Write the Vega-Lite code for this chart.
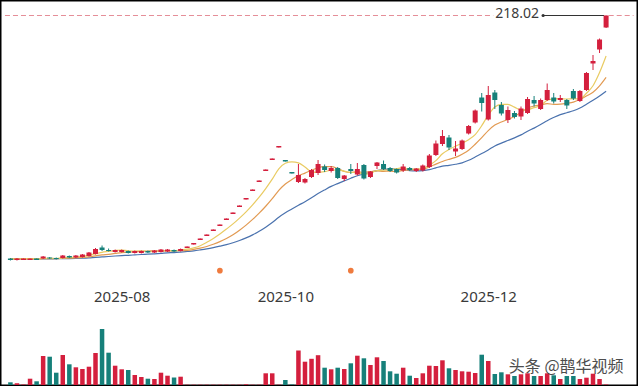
{
  "$schema": "https://vega.github.io/schema/vega-lite/v6.json",
  "width": 638,
  "height": 386,
  "padding": 0,
  "autosize": {"type": "none"},
  "background": "white",
  "config": {
    "view": {"stroke": "#000000", "strokeWidth": 3},
    "axisX": {"domain": false, "ticks": false, "grid": false, "labelFontSize": 15, "labelColor": "#3a3a3a", "labelFont": "Noto Sans"}
  },
  "datasets": {
    "k": [
      {"i":0,"d":"down","o":13.90,"c":12.64,"h":14.32,"l":12.22,"v":8.1,"m5":13.56,"m10":13.52,"m20":13.50},
      {"i":1,"d":"up","o":12.64,"c":13.90,"h":14.32,"l":12.22,"v":5.1,"m5":13.65,"m10":13.56,"m20":13.52},
      {"i":2,"d":"up","o":12.64,"c":13.90,"h":13.90,"l":12.64,"v":1.5,"m5":13.73,"m10":13.61,"m20":13.54},
      {"i":3,"d":"up","o":12.64,"c":13.90,"h":13.90,"l":12.64,"v":18.9,"m5":13.82,"m10":13.65,"m20":13.56},
      {"i":4,"d":"down","o":13.90,"c":12.64,"h":13.90,"l":12.64,"v":11.1,"m5":13.65,"m10":13.56,"m20":13.52},
      {"i":5,"d":"up","o":13.90,"c":15.58,"h":16.00,"l":13.48,"v":87,"m5":13.98,"m10":13.77,"m20":13.63},
      {"i":6,"d":"down","o":14.74,"c":13.90,"h":15.16,"l":13.48,"v":84.9,"m5":13.98,"m10":13.82,"m20":13.65},
      {"i":7,"d":"down","o":14.32,"c":13.48,"h":14.74,"l":13.06,"v":36.9,"m5":13.90,"m10":13.82,"m20":13.65},
      {"i":8,"d":"up","o":14.32,"c":16.42,"h":16.84,"l":13.90,"v":90,"m5":14.40,"m10":14.11,"m20":13.82},
      {"i":9,"d":"down","o":16.00,"c":14.74,"h":16.42,"l":14.32,"v":62.1,"m5":14.82,"m10":14.24,"m20":13.86},
      {"i":10,"d":"up","o":14.74,"c":16.42,"h":16.84,"l":14.32,"v":53.1,"m5":14.99,"m10":14.49,"m20":13.98},
      {"i":11,"d":"up","o":15.16,"c":17.26,"h":17.68,"l":14.74,"v":48,"m5":15.66,"m10":14.82,"m20":14.19},
      {"i":12,"d":"up","o":16.00,"c":18.94,"h":19.36,"l":15.58,"v":54.9,"m5":16.76,"m10":15.33,"m20":14.49},
      {"i":13,"d":"up","o":17.68,"c":21.88,"h":22.72,"l":17.26,"v":96,"m5":17.85,"m10":16.13,"m20":14.91},
      {"i":14,"d":"down","o":23.14,"c":21.04,"h":24.82,"l":20.20,"v":168,"m5":19.11,"m10":16.97,"m20":15.24},
      {"i":15,"d":"down","o":21.04,"c":20.20,"h":22.30,"l":19.78,"v":96.9,"m5":19.86,"m10":17.43,"m20":15.58},
      {"i":16,"d":"up","o":19.36,"c":21.04,"h":21.46,"l":18.94,"v":57.9,"m5":20.62,"m10":18.14,"m20":16.00},
      {"i":17,"d":"up","o":19.36,"c":21.04,"h":21.46,"l":18.94,"v":47.1,"m5":21.04,"m10":18.90,"m20":16.34},
      {"i":18,"d":"down","o":20.20,"c":18.52,"h":20.62,"l":18.10,"v":45,"m5":20.37,"m10":19.11,"m20":16.59},
      {"i":19,"d":"up","o":18.52,"c":20.20,"h":20.62,"l":18.10,"v":30,"m5":20.20,"m10":19.65,"m20":16.92},
      {"i":20,"d":"up","o":18.52,"c":20.20,"h":20.62,"l":18.10,"v":24,"m5":20.20,"m10":20.03,"m20":17.26},
      {"i":21,"d":"down","o":20.20,"c":18.94,"h":20.62,"l":18.52,"v":18.9,"m5":19.78,"m10":20.20,"m20":17.51},
      {"i":22,"d":"up","o":18.94,"c":20.62,"h":21.04,"l":18.52,"v":18,"m5":19.70,"m10":20.37,"m20":17.85},
      {"i":23,"d":"up","o":19.36,"c":21.46,"h":21.88,"l":18.94,"v":36.9,"m5":20.28,"m10":20.33,"m20":18.23},
      {"i":24,"d":"up","o":19.78,"c":21.46,"h":21.88,"l":19.36,"v":27.9,"m5":20.54,"m10":20.37,"m20":18.69},
      {"i":25,"d":"down","o":21.04,"c":19.78,"h":21.46,"l":19.36,"v":22.5,"m5":20.45,"m10":20.33,"m20":18.86},
      {"i":26,"d":"up","o":20.20,"c":21.88,"h":22.30,"l":19.78,"v":24.9,"m5":21.04,"m10":20.41,"m20":19.28},
      {"i":27,"d":"up","o":22.72,"c":23.98,"h":23.98,"l":22.72,"v":0.9,"m5":21.71,"m10":20.70,"m20":19.78},
      {"i":28,"d":"up","o":25.66,"c":26.92,"h":26.92,"l":25.66,"v":0.9,"m5":22.80,"m10":21.54,"m20":20.33},
      {"i":29,"d":"up","o":29.44,"c":30.70,"h":30.70,"l":29.44,"v":0.9,"m5":24.65,"m10":22.59,"m20":21.12},
      {"i":30,"d":"up","o":32.80,"c":34.06,"h":34.06,"l":32.80,"v":0.9,"m5":27.51,"m10":23.98,"m20":22.01},
      {"i":31,"d":"up","o":37.00,"c":38.26,"h":38.26,"l":37.00,"v":0.9,"m5":30.78,"m10":25.91,"m20":23.06},
      {"i":32,"d":"up","o":41.20,"c":42.46,"h":42.46,"l":41.20,"v":0.9,"m5":34.48,"m10":28.10,"m20":24.23},
      {"i":33,"d":"up","o":46.24,"c":47.50,"h":47.50,"l":46.24,"v":0.9,"m5":38.60,"m10":30.70,"m20":25.49},
      {"i":34,"d":"up","o":51.28,"c":52.54,"h":52.54,"l":51.28,"v":0.9,"m5":42.96,"m10":33.81,"m20":27.09},
      {"i":35,"d":"up","o":57.16,"c":58.42,"h":58.42,"l":57.16,"v":0.9,"m5":47.84,"m10":37.67,"m20":29.02},
      {"i":36,"d":"up","o":63.46,"c":64.72,"h":64.72,"l":63.46,"v":2.1,"m5":53.13,"m10":41.96,"m20":31.20},
      {"i":37,"d":"up","o":70.60,"c":71.86,"h":71.86,"l":70.60,"v":0.9,"m5":59.01,"m10":46.74,"m20":33.72},
      {"i":38,"d":"up","o":78.16,"c":79.42,"h":79.42,"l":78.16,"v":0.9,"m5":65.39,"m10":51.99,"m20":36.75},
      {"i":39,"d":"up","o":87.40,"c":88.66,"h":88.66,"l":87.40,"v":35.1,"m5":72.62,"m10":57.79,"m20":40.19},
      {"i":40,"d":"up","o":96.64,"c":97.90,"h":97.90,"l":96.64,"v":35.1,"m5":80.51,"m10":64.17,"m20":44.06},
      {"i":41,"d":"up","o":107.14,"c":108.40,"h":108.40,"l":107.14,"v":0.9,"m5":89.25,"m10":71.19,"m20":48.55},
      {"i":42,"d":"down","o":96.64,"c":95.38,"h":96.64,"l":95.38,"v":15,"m5":93.95,"m10":76.48,"m20":52.29},
      {"i":43,"d":"down","o":86.56,"c":85.30,"h":86.56,"l":85.30,"v":1.5,"m5":95.13,"m10":80.26,"m20":55.48},
      {"i":44,"d":"up","o":78.16,"c":84.04,"h":93.28,"l":77.32,"v":103.5,"m5":94.20,"m10":83.41,"m20":58.59},
      {"i":45,"d":"up","o":77.74,"c":80.68,"h":81.52,"l":76.90,"v":69.9,"m5":90.76,"m10":85.64,"m20":61.65},
      {"i":46,"d":"up","o":82.36,"c":88.24,"h":89.08,"l":81.52,"v":78.6,"m5":86.73,"m10":87.99,"m20":64.97},
      {"i":47,"d":"up","o":85.72,"c":93.28,"h":96.64,"l":84.04,"v":89.4,"m5":86.31,"m10":90.13,"m20":68.42},
      {"i":48,"d":"down","o":91.18,"c":88.24,"h":92.86,"l":86.56,"v":51.9,"m5":86.90,"m10":91.01,"m20":71.52},
      {"i":49,"d":"up","o":87.40,"c":89.92,"h":91.60,"l":86.14,"v":47.1,"m5":88.07,"m10":91.14,"m20":74.46},
      {"i":50,"d":"down","o":89.92,"c":81.52,"h":90.76,"l":80.68,"v":51.9,"m5":88.24,"m10":89.50,"m20":76.82},
      {"i":51,"d":"up","o":80.68,"c":83.62,"h":84.04,"l":79.00,"v":48,"m5":87.32,"m10":87.02,"m20":79.08},
      {"i":52,"d":"down","o":89.08,"c":87.40,"h":93.28,"l":84.88,"v":65.1,"m5":86.14,"m10":86.22,"m20":81.35},
      {"i":53,"d":"up","o":84.46,"c":89.08,"h":94.12,"l":83.62,"v":87.9,"m5":86.31,"m10":86.60,"m20":83.45},
      {"i":54,"d":"down","o":92.44,"c":81.10,"h":93.28,"l":80.26,"v":80.1,"m5":84.54,"m10":86.31,"m20":84.88},
      {"i":55,"d":"up","o":82.36,"c":86.98,"h":87.40,"l":81.52,"v":60,"m5":85.64,"m10":86.94,"m20":86.31},
      {"i":56,"d":"up","o":91.60,"c":94.54,"h":94.96,"l":89.08,"v":83.1,"m5":87.82,"m10":87.57,"m20":87.78},
      {"i":57,"d":"down","o":93.28,"c":89.08,"h":96.22,"l":88.24,"v":72,"m5":88.16,"m10":87.15,"m20":88.66},
      {"i":58,"d":"down","o":89.92,"c":87.40,"h":90.76,"l":86.56,"v":41.1,"m5":88.32,"m10":87.32,"m20":89.16},
      {"i":59,"d":"down","o":89.08,"c":86.14,"h":89.50,"l":85.30,"v":33.9,"m5":89.33,"m10":86.94,"m20":89.04},
      {"i":60,"d":"up","o":87.82,"c":91.18,"h":93.28,"l":86.56,"v":51.9,"m5":90.17,"m10":87.90,"m20":88.70},
      {"i":61,"d":"down","o":89.92,"c":88.24,"h":90.76,"l":87.40,"v":27.9,"m5":88.91,"m10":88.37,"m20":87.69},
      {"i":62,"d":"up","o":87.40,"c":89.50,"h":89.92,"l":86.56,"v":21,"m5":89.00,"m10":88.58,"m20":87.40},
      {"i":63,"d":"up","o":87.82,"c":92.02,"h":92.86,"l":86.98,"v":35.1,"m5":89.42,"m10":88.87,"m20":87.74},
      {"i":64,"d":"up","o":90.76,"c":100.42,"h":101.68,"l":89.92,"v":57.9,"m5":92.27,"m10":90.80,"m20":88.58},
      {"i":65,"d":"up","o":100.84,"c":110.50,"h":113.02,"l":100.00,"v":57,"m5":96.14,"m10":93.15,"m20":90.05},
      {"i":66,"d":"up","o":110.08,"c":116.80,"h":121.84,"l":108.40,"v":74.1,"m5":101.85,"m10":95.38,"m20":91.47},
      {"i":67,"d":"down","o":115.54,"c":107.14,"h":117.64,"l":105.04,"v":50.1,"m5":105.38,"m10":97.19,"m20":92.19},
      {"i":68,"d":"up","o":103.78,"c":106.30,"h":112.60,"l":100.00,"v":45,"m5":108.23,"m10":98.82,"m20":93.07},
      {"i":69,"d":"up","o":105.88,"c":113.02,"h":113.86,"l":105.04,"v":41.1,"m5":110.75,"m10":101.51,"m20":94.20},
      {"i":70,"d":"up","o":118.90,"c":125.20,"h":126.04,"l":118.06,"v":39.9,"m5":113.69,"m10":104.91,"m20":96.39},
      {"i":71,"d":"up","o":128.14,"c":138.22,"h":139.06,"l":127.30,"v":36,"m5":117.98,"m10":109.91,"m20":99.16},
      {"i":72,"d":"down","o":149.14,"c":144.52,"h":152.92,"l":137.38,"v":90.9,"m5":125.45,"m10":115.41,"m20":102.02},
      {"i":73,"d":"up","o":130.66,"c":151.24,"h":158.80,"l":129.82,"v":72,"m5":134.44,"m10":121.34,"m20":105.12},
      {"i":74,"d":"down","o":153.34,"c":147.04,"h":155.44,"l":139.48,"v":33,"m5":141.24,"m10":126.00,"m20":108.40},
      {"i":75,"d":"down","o":142.84,"c":135.70,"h":145.36,"l":134.02,"v":38.1,"m5":143.34,"m10":128.52,"m20":110.84},
      {"i":76,"d":"up","o":130.24,"c":138.64,"h":141.58,"l":127.72,"v":32.1,"m5":143.43,"m10":130.70,"m20":113.02},
      {"i":77,"d":"down","o":136.12,"c":132.76,"h":137.80,"l":131.50,"v":27,"m5":141.08,"m10":133.26,"m20":115.20},
      {"i":78,"d":"up","o":133.18,"c":139.90,"h":141.58,"l":130.24,"v":32.1,"m5":138.81,"m10":136.62,"m20":117.72},
      {"i":79,"d":"up","o":136.12,"c":147.88,"h":149.56,"l":135.28,"v":35.1,"m5":138.98,"m10":140.11,"m20":120.83},
      {"i":80,"d":"down","o":147.04,"c":144.10,"h":150.40,"l":141.58,"v":27,"m5":140.66,"m10":142.00,"m20":123.44},
      {"i":81,"d":"up","o":139.48,"c":147.04,"h":148.30,"l":138.64,"v":27,"m5":142.34,"m10":142.88,"m20":126.38},
      {"i":82,"d":"up","o":147.04,"c":155.44,"h":160.90,"l":146.20,"v":35.1,"m5":146.87,"m10":143.97,"m20":129.69},
      {"i":83,"d":"down","o":149.14,"c":145.78,"h":152.92,"l":144.10,"v":29.1,"m5":148.05,"m10":143.43,"m20":132.38},
      {"i":84,"d":"up","o":147.04,"c":148.72,"h":151.24,"l":145.36,"v":18,"m5":148.22,"m10":143.60,"m20":134.78},
      {"i":85,"d":"down","o":147.04,"c":142.42,"h":147.88,"l":139.48,"v":27,"m5":147.88,"m10":144.27,"m20":136.37},
      {"i":86,"d":"down","o":154.60,"c":148.30,"h":156.28,"l":147.04,"v":27,"m5":148.13,"m10":145.23,"m20":137.97},
      {"i":87,"d":"up","o":146.20,"c":154.60,"h":155.44,"l":145.36,"v":18,"m5":147.96,"m10":147.42,"m20":140.32},
      {"i":88,"d":"up","o":155.44,"c":169.72,"h":170.56,"l":154.60,"v":21.9,"m5":152.75,"m10":150.40,"m20":143.51},
      {"i":89,"d":"up","o":177.70,"c":179.80,"h":184.84,"l":172.24,"v":33.9,"m5":158.97,"m10":153.59,"m20":146.87},
      {"i":90,"d":"up","o":189.46,"c":197.86,"h":198.70,"l":186.52,"v":18,"m5":170.06,"m10":158.97,"m20":150.48},
      {"i":91,"d":"up","o":207.94,"c":218.02,"h":218.02,"l":207.52,"v":1.5,"m5":184.00,"m10":166.07,"m20":154.47}
    ],
    "ref": [{"label": "218.02", "p": 218.02}],
    "dots": [{"i": 32, "p": 3.65}, {"i": 52, "p": 3.65}],
    "wm": [{"label": "头条 @鹊华视频", "i": 84.9, "v": 54}]
  },
  "layer": [
    {
      "layer": [
        {
          "data": {"name": "ref"},
          "mark": {"type": "rule", "stroke": "#e58e98", "strokeWidth": 1, "strokeDash": [5, 3]},
          "encoding": {
            "x": {"datum": -0.83, "type": "quantitative", "title": null, "scale": {"domain": [-0.827, 95.11], "nice": false, "zero": false},
                  "axis": {"values": [17, 42, 73], "offset": -90, "labelPadding": 0, "labelBaseline": "middle", "title": null,
                           "labelExpr": "datum.value == 17 ? '2025-08' : datum.value == 42 ? '2025-10' : '2025-12'"}},
            "x2": {"datum": 73.76},
            "y": {"field": "p", "type": "quantitative", "scale": {"domain": [-93.2, 231.04], "nice": false, "zero": false}, "axis": null}
          }
        },
        {
          "data": {"name": "ref"},
          "mark": {"type": "rule", "stroke": "#e58e98", "strokeWidth": 1, "strokeDash": [5, 3]},
          "encoding": {
            "x": {"datum": 91.4, "type": "quantitative", "title": null},
            "x2": {"datum": 95.2},
            "y": {"field": "p", "type": "quantitative", "axis": null}
          }
        },
        {
          "data": {"name": "ref"},
          "mark": {"type": "rule", "stroke": "#333333", "strokeWidth": 1},
          "encoding": {
            "x": {"datum": 81.38, "type": "quantitative", "title": null},
            "x2": {"datum": 90.7},
            "y": {"field": "p", "type": "quantitative", "axis": null}
          }
        },
        {
          "data": {"name": "ref"},
          "mark": {"type": "point", "filled": true, "color": "#333333", "size": 10, "opacity": 1},
          "encoding": {
            "x": {"datum": 81.38, "type": "quantitative", "title": null},
            "y": {"field": "p", "type": "quantitative", "axis": null}
          }
        },
        {
          "data": {"name": "ref"},
          "mark": {"type": "text", "align": "left", "baseline": "middle", "dy": -2, "fontSize": 14, "font": "Noto Sans", "color": "#3a3a3a"},
          "encoding": {
            "x": {"datum": 74.06, "type": "quantitative", "title": null},
            "y": {"field": "p", "type": "quantitative", "axis": null},
            "text": {"field": "label"}
          }
        },
        {
          "data": {"name": "k"},
          "mark": {"type": "line", "interpolate": "monotone", "color": "#4a72ae", "strokeWidth": 1.2},
          "encoding": {
            "x": {"field": "i", "type": "quantitative", "title": null},
            "y": {"field": "m20", "type": "quantitative", "axis": null}
          }
        },
        {
          "data": {"name": "k"},
          "mark": {"type": "line", "interpolate": "monotone", "color": "#e29a52", "strokeWidth": 1.2},
          "encoding": {
            "x": {"field": "i", "type": "quantitative", "title": null},
            "y": {"field": "m10", "type": "quantitative", "axis": null}
          }
        },
        {
          "data": {"name": "k"},
          "mark": {"type": "line", "interpolate": "monotone", "color": "#e9cb62", "strokeWidth": 1.2},
          "encoding": {
            "x": {"field": "i", "type": "quantitative", "title": null},
            "y": {"field": "m5", "type": "quantitative", "axis": null}
          }
        },
        {
          "data": {"name": "k"},
          "mark": {"type": "rule", "strokeWidth": 1},
          "encoding": {
            "x": {"field": "i", "type": "quantitative", "title": null},
            "y": {"field": "l", "type": "quantitative", "axis": null},
            "y2": {"field": "h"},
            "color": {"field": "d", "type": "nominal", "scale": {"domain": ["up", "down"], "range": ["#d41f3d", "#16807a"]}, "legend": null}
          }
        },
        {
          "data": {"name": "k"},
          "mark": {"type": "bar", "width": 5},
          "encoding": {
            "x": {"field": "i", "type": "quantitative", "title": null},
            "y": {"field": "o", "type": "quantitative", "axis": null},
            "y2": {"field": "c"},
            "color": {"field": "d", "type": "nominal", "legend": null}
          }
        },
        {
          "data": {"name": "dots"},
          "mark": {"type": "point", "filled": true, "color": "#ef7b3e", "size": 32, "opacity": 1},
          "encoding": {
            "x": {"field": "i", "type": "quantitative", "title": null},
            "y": {"field": "p", "type": "quantitative", "axis": null}
          }
        }
      ]
    },
    {
      "layer": [
        {
          "data": {"name": "k"},
          "mark": {"type": "bar", "width": 4.5},
          "encoding": {
            "x": {"field": "i", "type": "quantitative", "title": null},
            "y": {"field": "v", "type": "quantitative", "scale": {"domain": [-3, 1155], "nice": false, "zero": false}, "axis": null},
            "y2": {"datum": 0},
            "color": {"field": "d", "type": "nominal", "legend": null}
          }
        },
        {
          "data": {"name": "wm"},
          "mark": {"type": "text", "align": "center", "baseline": "middle", "fontSize": 16, "font": "Noto Sans CJK SC", "color": "#3a3a3a", "opacity": 0.9},
          "encoding": {
            "x": {"field": "i", "type": "quantitative", "title": null},
            "y": {"field": "v", "type": "quantitative", "axis": null},
            "text": {"field": "label"}
          }
        }
      ]
    }
  ],
  "resolve": {"scale": {"y": "independent"}}
}
